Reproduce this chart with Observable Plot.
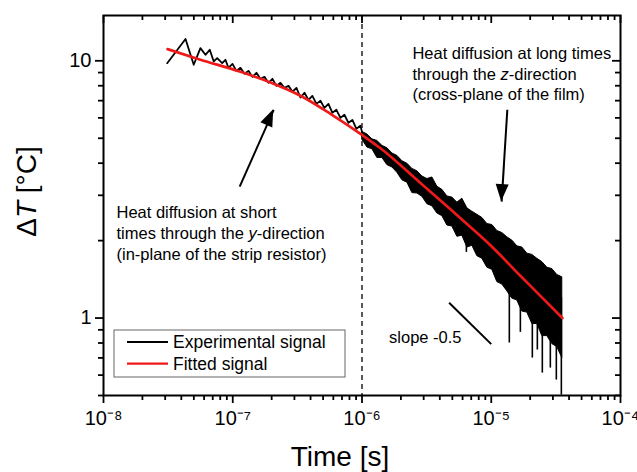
<!DOCTYPE html>
<html><head><meta charset="utf-8">
<script src="https://cdn.jsdelivr.net/npm/d3@7"></script>
<script src="https://cdn.jsdelivr.net/npm/@observablehq/plot@0.6"></script>
<style>
body{margin:0;background:#fff}
svg{font-family:"Liberation Sans",Arial,sans-serif}
</style>
</head><body><div id="chart"></div>
<script>
// ---------- data ----------
// experimental signal, short-time part (t in s, ΔT in °C)
const expTime = [3.11e-8,4.31e-8,4.99e-8,5.62e-8,6.15e-8,6.64e-8,7.13e-8,7.58e-8,8.28e-8,8.78e-8,9.26e-8,9.95e-8,1.068e-7,1.147e-7,1.232e-7,1.323e-7,1.420e-7,1.525e-7,1.637e-7,1.759e-7,1.889e-7,2.028e-7,2.178e-7,2.339e-7,2.51e-7,2.70e-7,2.90e-7,3.11e-7,3.34e-7,3.59e-7,3.85e-7,4.13e-7,4.44e-7,4.77e-7,5.12e-7,5.50e-7,5.90e-7,6.34e-7,6.81e-7,7.31e-7,7.85e-7,8.43e-7,9.05e-7,9.72e-7,1.01e-6];
const expValue = [9.79,12.15,9.65,11.2,10.55,11.04,9.94,10.24,9.79,10.09,9.39,9.73,9.14,9.39,8.90,9.14,8.66,8.98,8.51,8.66,8.21,8.51,7.99,8.21,7.85,7.99,7.58,7.85,7.20,7.51,7.05,7.30,6.80,6.99,6.56,6.80,6.28,6.45,6.00,6.17,5.74,5.89,5.44,5.59,5.2];
// experimental signal, long-time noisy band (upper / lower envelope)
const bandTime = [1.007e-6,1.101e-6,1.203e-6,1.315e-6,1.438e-6,1.572e-6,1.718e-6,1.878e-6,2.053e-6,2.244e-6,2.453e-6,2.681e-6,2.931e-6,3.204e-6,3.502e-6,3.828e-6,4.185e-6,4.574e-6,5.000e-6,5.466e-6,5.975e-6,6.531e-6,7.139e-6,7.804e-6,8.530e-6,9.325e-6,1.019e-5,1.114e-5,1.218e-5,1.331e-5,1.455e-5,1.591e-5,1.739e-5,1.901e-5,2.078e-5,2.271e-5,2.483e-5,2.714e-5,2.967e-5,3.243e-5,3.545e-5];
const bandHigh = [5.29,5.17,4.95,4.88,4.67,4.57,4.36,4.27,4.07,3.98,3.80,3.72,3.55,3.47,3.52,3.24,3.15,2.97,2.94,2.81,2.91,2.67,2.59,2.52,2.45,2.32,2.30,2.18,2.14,2.06,2.00,1.90,1.88,1.78,1.76,1.70,1.65,1.57,1.55,1.47,1.44];
const bandLow = [4.93,4.60,4.53,4.19,4.19,3.93,3.85,3.67,3.43,3.36,3.06,3.05,2.96,2.77,2.72,2.55,2.49,2.29,2.27,2.07,2.09,1.88,1.91,1.74,1.70,1.57,1.54,1.38,1.35,1.27,1.19,1.17,1.06,1.05,0.949,0.948,0.851,0.851,0.792,0.771,0.699];
// downward noise spikes
const spikeTime = [6.42e-6,1.380e-5,1.680e-5,2.079e-5,2.273e-5,2.484e-5,2.865e-5,3.188e-5,3.486e-5];
const spikeTop = [2.3,1.7,1.5,1.3,1.2,1.15,1.05,1.0,1.2];
const spikeBottom = [1.80,0.80,0.88,0.699,0.751,0.611,0.639,0.574,0.502];
// fitted signal
const fitTime = [3.13e-8,5.62e-8,1.148e-7,1.96e-7,3.34e-7,5.70e-7,1.0e-6,1.39e-6,2.83e-6,4.83e-6,6.89e-6,9.84e-6,1.68e-5,2.40e-5,3.55e-5];
const fitValue = [11.1,10.1,9.06,8.23,7.31,6.22,5.15,4.57,3.35,2.65,2.26,1.92,1.46,1.22,1.0];
// slope -0.5 guide
const slopeTime = [4.72e-6,1.0e-5];
const slopeValue = [1.147,0.792];
// dashed separator
const splitTime = [1e-6];
// annotations
const noteText = ["Heat diffusion at short\ntimes through the y-direction\n(in-plane of the strip resistor)","Heat diffusion at long times\nthrough the z-direction\n(cross-plane of the film)","slope -0.5"];
const noteTime = [1.26e-8,2.455e-6,1.62e-6];
const noteValue = [2.16,8.98,0.853];
const arrowFromTime = [1.132e-7,1.332e-5];
const arrowFromValue = [3.24,6.45];
const arrowToTime = [2.075e-7,1.203e-5];
const arrowToValue = [6.45,2.835];
// axes
const xMajor = [1e-8,1e-7,1e-6,1e-5,1e-4];
const xMajorLabels = ["10⁻⁸","10⁻⁷","10⁻⁶","10⁻⁵","10⁻⁴"];
const minorMultipliers = [2,3,4,5,6,7,8,9];
const yMajor = [1,10];
const yMajorLabels = ["1","10"];
const yMinor = [0.5,0.6,0.7,0.8,0.9,2,3,4,5,6,7,8,9];
const legendLabels = ["Experimental signal","Fitted signal"];
const legendColors = ["#000000","#ee1a1a"];
const xTitle = "Time [s]";
const yTitle = "ΔT [°C]";

// ---------- layout ----------
const W = 637, H = 472, mL = 103, mR = 17, mT = 15, mB = 77;
const fw = W - mL - mR, fh = H - mT - mB;
const majorLen = 8, minorLen = 5, tw = 1.8;

// ---------- build tables ----------
const early = expTime.map((t,i)=>({t, v: expValue[i]}));
const band = bandTime.map((t,i)=>({t, hi: bandHigh[i], lo: bandLow[i]}));
const spikes = spikeTime.map((t,i)=>({t, top: spikeTop[i], bottom: spikeBottom[i]}));
const fit = fitTime.map((t,i)=>({t, v: fitValue[i]}));
const notes = noteText.map((s,i)=>({s, t: noteTime[i], v: noteValue[i]}));
const arrows = arrowFromTime.map((t,i)=>({t0: t, v0: arrowFromValue[i], t1: arrowToTime[i], v1: arrowToValue[i]}));
const xMinor = xMajor.slice(0,-1).flatMap(d => minorMultipliers.map(m => d*m));
const xLab = new Map(xMajor.map((d,i)=>[d, xMajorLabels[i]]));
const yLab = new Map(yMajor.map((d,i)=>[d, yMajorLabels[i]]));
const red = legendColors[1];

const chart = Plot.plot({
  width: W, height: H,
  marginLeft: mL, marginRight: mR, marginTop: mT, marginBottom: mB,
  x: {type: "log", domain: [1e-8, 1e-4]},
  y: {type: "log", domain: [0.5, 15]},
  style: {background: "white", color: "black", fontFamily: "Liberation Sans, Arial, sans-serif", overflow: "visible"},
  marks: [
    Plot.ruleX(splitTime, {strokeDasharray: "5,4", strokeWidth: 1.3}),
    Plot.areaY(band, {x: "t", y1: "lo", y2: "hi", fill: "black", stroke: "black", strokeWidth: 1}),
    Plot.ruleX(spikes, {x: "t", y1: "top", y2: "bottom", strokeWidth: 1.6}),
    Plot.line(early, {x: "t", y: "v", stroke: "black", strokeWidth: 1.8}),
    Plot.line(fit, {x: "t", y: "v", stroke: red, strokeWidth: 2.7, curve: "monotone-x"}),
    Plot.link([0], {x1: () => slopeTime[0], y1: () => slopeValue[0], x2: () => slopeTime[1], y2: () => slopeValue[1], strokeWidth: 2}),
    Plot.link(arrows, {x1: "t0", y1: "v0", x2: "t1", y2: "v1", strokeWidth: 2}),
    Plot.text(notes, {x: "t", y: "v", text: "s", textAnchor: "start", lineAnchor: "middle", fontSize: 16.5, lineHeight: 1.27}),
    // tick marks: bottom/left outward, top/right inward
    Plot.ruleX(xMajor, {insetTop: fh - majorLen, dy: majorLen, strokeWidth: tw}),
    Plot.ruleX(xMinor, {insetTop: fh - minorLen, dy: minorLen, strokeWidth: tw}),
    Plot.ruleX(xMajor, {insetBottom: fh - majorLen, strokeWidth: tw}),
    Plot.ruleX(xMinor, {insetBottom: fh - minorLen, strokeWidth: tw}),
    Plot.ruleY(yMajor, {insetRight: fw - majorLen, dx: -majorLen, strokeWidth: tw}),
    Plot.ruleY(yMinor, {insetRight: fw - minorLen, dx: -minorLen, strokeWidth: tw}),
    Plot.ruleY(yMajor, {insetLeft: fw - majorLen, strokeWidth: tw}),
    Plot.ruleY(yMinor, {insetLeft: fw - minorLen, strokeWidth: tw}),
    // tick labels
    Plot.axisX(xMajor, {anchor: "bottom", tickSize: 0, tickPadding: 15, fontSize: 20, tickFormat: d => xLab.get(d), label: null}),
    Plot.axisY(yMajor, {anchor: "left", tickSize: 0, tickPadding: 12, fontSize: 20, tickFormat: d => yLab.get(d), label: null}),
    // axis titles
    Plot.text([xTitle], {text: d => d, frameAnchor: "bottom", dy: 62, dx: -22, textAnchor: "middle", lineAnchor: "middle", fontSize: 28}),
    Plot.text([yTitle], {text: d => d, frameAnchor: "left", rotate: -90, dx: -76, dy: -14, textAnchor: "middle", lineAnchor: "middle", fontSize: 28}),
    Plot.frame({strokeWidth: 2})
  ]
});

document.getElementById("chart").appendChild(chart);
const svg = d3.select(chart);
const sx = chart.scale("x"), sy = chart.scale("y");

// filled arrow heads at the tips, positioned with the plot scales
arrows.forEach(a => {
  const x0 = sx.apply(a.t0), y0 = sy.apply(a.v0), x1 = sx.apply(a.t1), y1 = sy.apply(a.v1);
  const ang = Math.atan2(y1 - y0, x1 - x0);
  const L = 17, Wd = 6.5;
  const bx = x1 - L * Math.cos(ang), by = y1 - L * Math.sin(ang);
  const px = -Math.sin(ang) * Wd, py = Math.cos(ang) * Wd;
  svg.append("path").attr("d", `M${x1},${y1}L${bx + px},${by + py}L${bx - px},${by - py}Z`).attr("fill", "#000");
});

// italic letters (y, z, T)
const leaves = [];
svg.selectAll("text, tspan").each(function(){ if (this.children.length === 0) leaves.push(this); });
leaves.forEach(node => {
  const s = node.textContent;
  const m = s.match(/^(.*the )([yz])(-direction.*)$/) || s.match(/^(Δ)(T)( \[°C\])$/);
  if (!m) return;
  node.textContent = "";
  const sel = d3.select(node);
  sel.append("tspan").text(m[1]);
  sel.append("tspan").attr("font-style", "italic").text(m[2]);
  sel.append("tspan").text(m[3]);
});

// legend box
const lg = svg.append("g").attr("font-size", 17.5).attr("text-anchor", "start");
lg.append("rect").attr("x", 114).attr("y", 330).attr("width", 231).attr("height", 47)
  .attr("fill", "white").attr("stroke", "#666").attr("stroke-width", 1);
legendLabels.forEach((name, i) => {
  const y = 342 + i * 21.6;
  lg.append("line").attr("x1", 127).attr("x2", 168).attr("y1", y).attr("y2", y)
    .attr("stroke", legendColors[i]).attr("stroke-width", 2.2);
  lg.append("text").attr("x", 173).attr("y", y + 6.3).attr("fill", "black").text(name);
});
</script>
</body></html>
